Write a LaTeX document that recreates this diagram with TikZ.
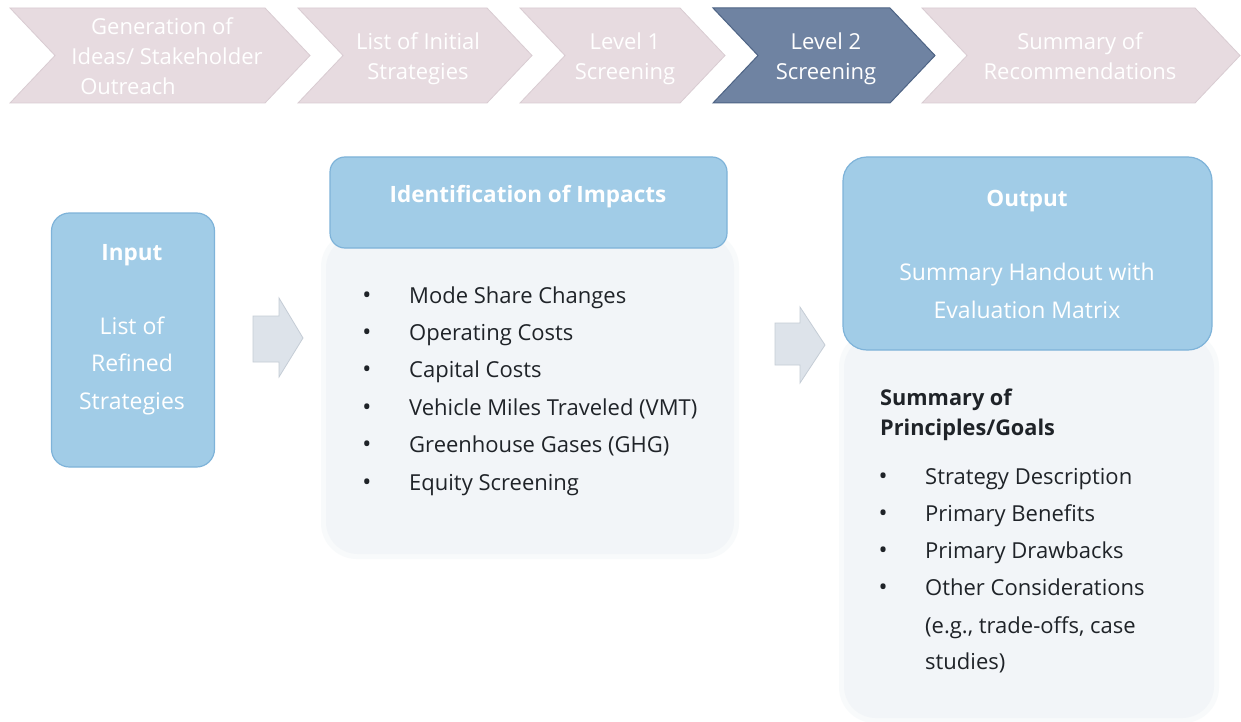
\documentclass[tikz,border=0pt]{standalone}
\usepackage{fontspec}
\setmainfont{Open Sans}
\definecolor{chevL}{HTML}{E7DBE0}
\definecolor{chevLd}{HTML}{D9CCD2}
\definecolor{chevD}{HTML}{6F83A2}
\definecolor{chevDd}{HTML}{4E6485}
\definecolor{boxblue}{HTML}{A1CCE7}
\definecolor{boxblued}{HTML}{7EB3D9}
\definecolor{paleF}{HTML}{F2F5F8}
\definecolor{paleE}{HTML}{F8FAFB}
\definecolor{arrF}{HTML}{DDE3EA}
\definecolor{arrD}{HTML}{C5CDD6}
\definecolor{ink}{HTML}{1F2328}
\tikzset{
  lightchev/.style={fill=chevL, draw=chevLd, line width=0.8},
  darkchev/.style={fill=chevD, draw=chevDd, line width=1},
  chevtxt/.style={font=\fontsize{22}{26}\selectfont, text=white, anchor=base, inner sep=0},
  bluebox/.style={rectangle, rounded corners=18, fill=boxblue, draw=boxblued, line width=1.2},
  palebox/.style={rectangle, rounded corners=32, fill=paleF},
  paleedge/.style={rectangle, rounded corners=36, fill=paleE},
  bluetitle/.style={font=\bfseries\fontsize{22.5}{26}\selectfont, text=white, anchor=base, inner sep=0},
  bluetxt/.style={font=\fontsize{23}{26}\selectfont, text=white, anchor=base, inner sep=0},
  itemtxt/.style={font=\fontsize{22}{26}\selectfont, text=ink, anchor=base west, inner sep=0},
  headtxt/.style={font=\bfseries\fontsize{21.7}{26}\selectfont, text=ink, anchor=base west, inner sep=0},
  bul/.style={font=\fontsize{24}{26}\selectfont, text=ink, anchor=base, inner sep=0},
  blockarrow/.style={fill=arrF, draw=arrD, line width=0.8},
}
\begin{document}
\begin{tikzpicture}[x=1pt,y=-1pt]
\useasboundingbox[fill=white] (0,0) rectangle (1241,722);

% ---- process chevrons ----
\path[lightchev] (10,8) -- (265,8) -- (310,55.5) -- (265,103) -- (10,103) -- (55,55.5) -- cycle;
\path[lightchev] (298,8) -- (487,8) -- (532,55.5) -- (487,103) -- (298,103) -- (343,55.5) -- cycle;
\path[lightchev] (520,8) -- (680,8) -- (725,55.5) -- (680,103) -- (520,103) -- (565,55.5) -- cycle;
\path[darkchev]  (713,8) -- (890,8) -- (935,55.5) -- (890,103) -- (713,103) -- (758,55.5) -- cycle;
\path[lightchev] (922,8) -- (1195,8) -- (1240,55.5) -- (1195,103) -- (922,103) -- (967,55.5) -- cycle;

\node[chevtxt] (c1a) at (162,35) {Generation of};
\node[chevtxt] (c1b) at (167,65) {Ideas/ Stakeholder};
\node[chevtxt] (c1c) at (128,95) {Outreach};
\node[chevtxt] (c2a) at (418,50) {List of Initial};
\node[chevtxt] (c2b) at (418,80) {Strategies};
\node[chevtxt] (c3a) at (625,50) {Level 1};
\node[chevtxt] (c3b) at (625,80) {Screening};
\node[chevtxt] (c4a) at (826,50) {Level 2};
\node[chevtxt] (c4b) at (826,80) {Screening};
\node[chevtxt] (c5a) at (1080,50) {Summary of};
\node[chevtxt] (c5b) at (1080,80) {Recommendations};

% ---- input ----
\node[bluebox, minimum width=163, minimum height=254] (input) at (133,340) {};
\node[bluetitle] (inputT) at (132,260) {Input};
\node[bluetxt] (in1) at (132,334) {List of};
\node[bluetxt] (in2) at (132,371) {Refined};
\node[bluetxt] (in3) at (132,409) {Strategies};

% ---- identification of impacts ----
\node[paleedge, minimum width=418, minimum height=328] (idEdge) at (530,395) {};
\node[palebox, minimum width=408, minimum height=318] (idBody) at (530,395) {};
\node[bluebox, rounded corners=15, minimum width=397, minimum height=91] (idHead) at (528.5,202.5) {};
\node[bluetitle] (idT) at (528,202) {Identification of Impacts};
\foreach \t [count=\i] in {Mode Share Changes, Operating Costs, Capital Costs, Vehicle Miles Traveled (VMT), Greenhouse Gases (GHG), Equity Screening}{
  \node[bul] (idb\i) at (367,{303+37.4*(\i-1)}) {\textbullet};
  \node[itemtxt] (idi\i) at (409,{303+37.4*(\i-1)}) {\t};
}

% ---- output ----
\node[paleedge, minimum width=380, minimum height=392] (outEdge) at (1029,527) {};
\node[palebox, minimum width=370, minimum height=382] (outBody) at (1029,527) {};
\node[bluebox, rounded corners=24, minimum width=369, minimum height=193] (outHead) at (1027.5,253.5) {};
\node[bluetitle] (outT) at (1027,206) {Output};
\node[bluetxt] (out1) at (1027,280) {Summary Handout with};
\node[bluetxt] (out2) at (1027,318) {Evaluation Matrix};
\node[headtxt] (sumA) at (880,405) {Summary of};
\node[headtxt] (sumB) at (880,435) {Principles/Goals};
\foreach \t [count=\i] in {Strategy Description, Primary Benefits, Primary Drawbacks, Other Considerations}{
  \node[bul] (ob\i) at (883,{484+37*(\i-1)}) {\textbullet};
  \node[itemtxt] (oi\i) at (925,{484+37*(\i-1)}) {\t};
}
\node[itemtxt] (oi5) at (925,633) {(e.g., trade-offs, case};
\node[itemtxt] (oi6) at (925,669) {studies)};

% ---- block arrows ----
\path[blockarrow] (253,316) -- (279,316) -- (279,298) -- (303,338) -- (279,377) -- (279,362) -- (253,362) -- cycle;
\path[blockarrow] (775,323) -- (800,323) -- (800,307) -- (825,345) -- (800,383) -- (800,365) -- (775,365) -- cycle;
\coordinate (a1) at (303,338);
\coordinate (a2) at (825,345);
\end{tikzpicture}
\end{document}
